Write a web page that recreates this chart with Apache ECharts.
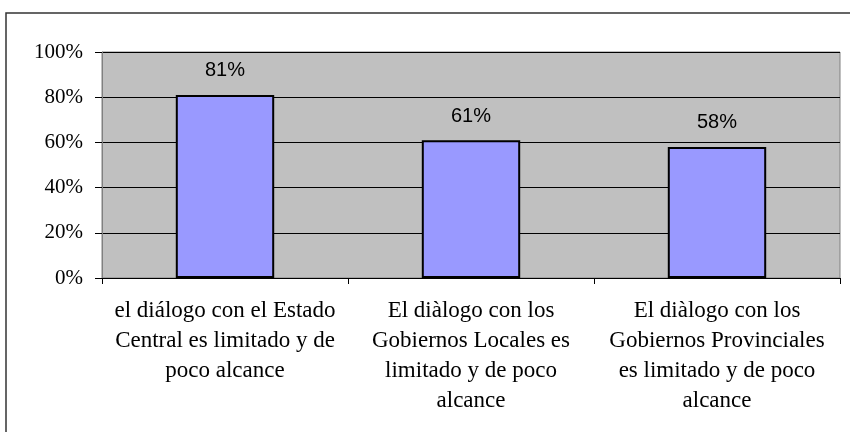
<!DOCTYPE html>
<html><head><meta charset="utf-8">
<script src="https://cdn.jsdelivr.net/npm/echarts@6/dist/echarts.min.js"></script>
<style>html,body{margin:0;padding:0;background:#fff}#c{width:850px;height:432px}</style>
</head><body><div id="c"></div>
<script>
var categories = [
  "el diálogo con el Estado\nCentral es limitado y de\npoco alcance",
  "El diàlogo con los\nGobiernos Locales es\nlimitado y de poco\nalcance",
  "El diàlogo con los\nGobiernos Provinciales\nes limitado y de poco\nalcance"
];
var values = [81, 61, 58];
var yTicks = [0, 20, 40, 60, 80, 100];

var chart = echarts.init(document.getElementById('c'), null, {renderer: 'canvas'});
chart.setOption({
  animation: false,
  graphic: [{
    type: 'rect', shape: {x: 6, y: 13, width: 900, height: 500},
    style: {fill: 'none', stroke: '#333', lineWidth: 1.5}, silent: true, z: -10
  }],
  grid: {left: 102, right: 10, top: 52, bottom: 154, show: true,
    backgroundColor: '#C0C0C0', borderColor: '#808080', borderWidth: 1},
  xAxis: {
    type: 'category', data: categories, boundaryGap: true,
    axisLine: {lineStyle: {color: '#000', width: 1}},
    axisTick: {show: true, length: 6, lineStyle: {color: '#000'}},
    axisLabel: {interval: 0, margin: 18, fontFamily: 'Liberation Serif', fontSize: 23,
      color: '#000', lineHeight: 30, align: 'center'}
  },
  yAxis: {
    type: 'value', min: 0, max: 100, interval: 20,
    axisLine: {show: true, lineStyle: {color: '#808080', width: 1}},
    axisTick: {show: true, length: 7, lineStyle: {color: '#000'}},
    splitLine: {show: true, lineStyle: {color: '#000', width: 1}},
    axisLabel: {margin: 19, fontFamily: 'Liberation Serif', fontSize: 21, color: '#000',
      formatter: function (v) { return yTicks.indexOf(v) >= 0 ? v + '%' : ''; }}
  },
  series: [{
    type: 'bar', data: values, barWidth: '40%',
    itemStyle: {color: '#9999FF', borderColor: '#000', borderWidth: 2},
    label: {show: true, position: 'top', distance: 14, formatter: '{c}%',
      fontFamily: 'Liberation Sans', fontSize: 20, color: '#000'}
  }]
});
</script></body></html>
